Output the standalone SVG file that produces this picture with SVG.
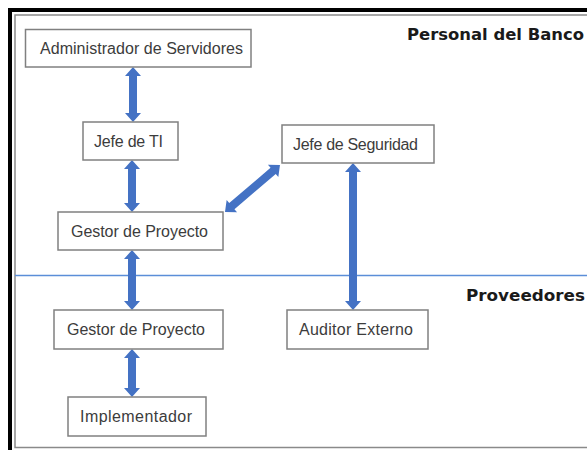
<svg xmlns="http://www.w3.org/2000/svg" width="587" height="450" viewBox="0 0 587 450">
<style>
.box{fill:#fff;stroke:#808080;stroke-width:1.5}
.lbl{font-family:"Liberation Sans",Arial,sans-serif;font-size:16px;fill:#3c3c3c;text-anchor:middle}
.hdr{font-family:"DejaVu Sans",sans-serif;font-weight:bold;font-size:16.2px;fill:#1a1a1a}
.arr{fill:#4472C4}
</style>
<rect x="0" y="0" width="587" height="450" fill="#fff"/>
<path d="M10 450 V10 H587" stroke="#000" stroke-width="4" fill="none"/>
<rect x="15" y="15" width="600" height="432.5" fill="none" stroke="#8a8a8a" stroke-width="1.5"/>
<line x1="15" y1="275.5" x2="587" y2="275.5" stroke="#5b8ed8" stroke-width="1.3"/>
<text class="hdr" x="407" y="39.5" textLength="177" lengthAdjust="spacingAndGlyphs">Personal del Banco</text>
<text class="hdr" x="466" y="300.5" textLength="119" lengthAdjust="spacingAndGlyphs">Proveedores</text>
<g id="connectors">
<polygon class="arr" points="133,67 141,76 137,76 137,113 141,113 133,122 125,113 129,113 129,76 125,76"/>
<polygon class="arr" points="132,160 140,169 136,169 136,203 140,203 132,212 124,203 128,203 128,169 124,169"/>
<polygon class="arr" points="132,250 140,259 136,259 136,301 140,301 132,310 124,301 128,301 128,259 124,259"/>
<polygon class="arr" points="132,349 140,358 136,358 136,388 140,388 132,397 124,388 128,388 128,358 124,358"/>
<polygon class="arr" points="353,163 361,172 357,172 357,301 361,301 353,310 345,301 349,301 349,172 345,172"/>
<g transform="translate(225,212) rotate(-40.5)">
<polygon class="arr" points="0,0 9,-8 9,-4 63.3,-4 63.3,-8 72.3,0 63.3,8 63.3,4 9,4 9,8"/>
</g>
</g>
<g id="admin"><rect class="box" x="25.5" y="29.5" width="225.5" height="37.5"/><text class="lbl" x="141.5" y="53.5" textLength="203">Administrador de Servidores</text></g>
<g id="jefe-ti"><rect class="box" x="83" y="122" width="95" height="38"/><text class="lbl" x="128.5" y="146.5" textLength="69">Jefe de TI</text></g>
<g id="gestor-banco"><rect class="box" x="58" y="212" width="165" height="38"/><text class="lbl" x="139.5" y="236.5" textLength="137">Gestor de Proyecto</text></g>
<g id="jefe-seguridad"><rect class="box" x="282" y="125" width="152" height="38"/><text class="lbl" x="355.5" y="149.5" textLength="125">Jefe de Seguridad</text></g>
<g id="gestor-prov"><rect class="box" x="54" y="310" width="169" height="39"/><text class="lbl" x="136" y="334.5" textLength="138">Gestor de Proyecto</text></g>
<g id="auditor"><rect class="box" x="287" y="310" width="141" height="39"/><text class="lbl" x="356" y="334.5" textLength="114">Auditor Externo</text></g>
<g id="implementador"><rect class="box" x="68" y="397" width="138" height="39"/><text class="lbl" x="136" y="421.5" textLength="112">Implementador</text></g>
</svg>
